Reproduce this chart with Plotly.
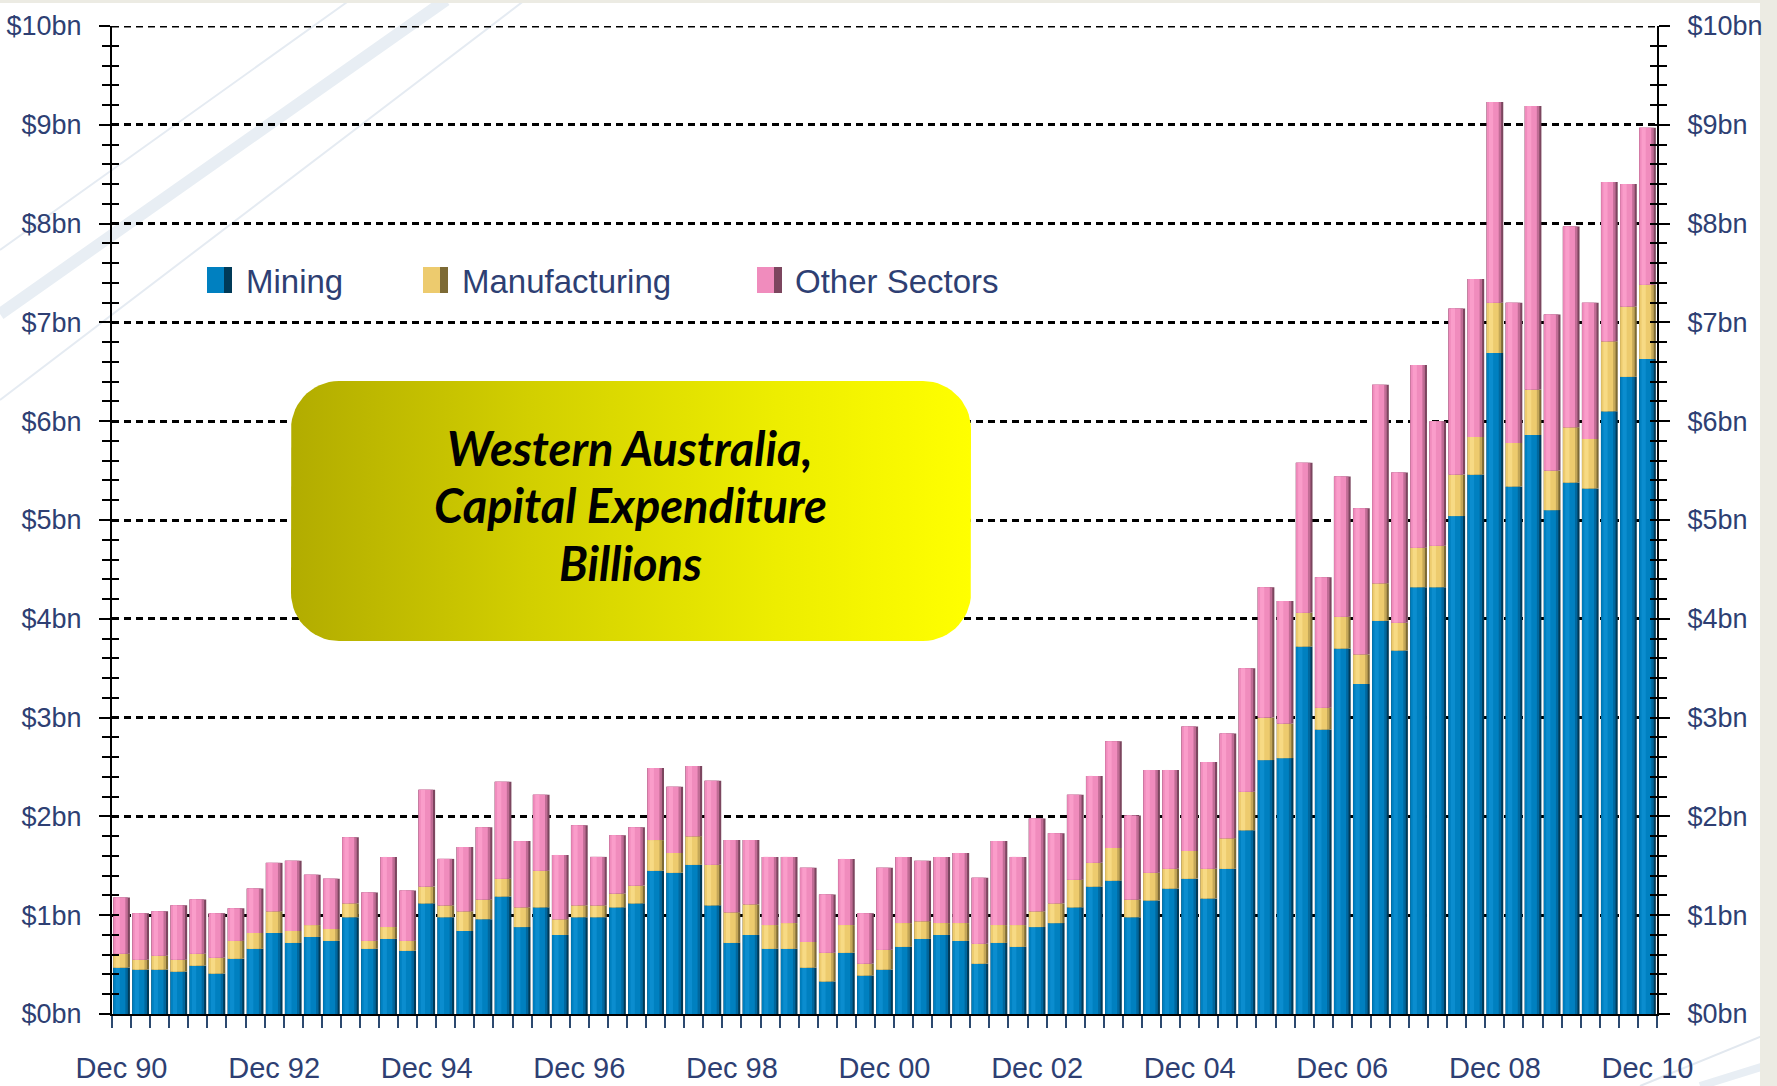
import numpy as np
import plotly.graph_objects as go

# ---------------- data (values in $bn) ----------------
mining = [0.47, 0.45, 0.45, 0.43, 0.49, 0.41, 0.56, 0.66, 0.82, 0.72,
          0.78, 0.74, 0.98, 0.66, 0.76, 0.64, 1.12, 0.98, 0.84, 0.96,
          1.19, 0.88, 1.08, 0.80, 0.98, 0.98, 1.08, 1.12, 1.45, 1.43,
          1.51, 1.10, 0.72, 0.80, 0.66, 0.66, 0.47, 0.33, 0.62, 0.39,
          0.45, 0.68, 0.76, 0.80, 0.74, 0.51, 0.72, 0.68, 0.88, 0.92,
          1.08, 1.29, 1.35, 0.98, 1.15, 1.27, 1.37, 1.17, 1.47, 1.86,
          2.57, 2.59, 3.72, 2.88, 3.70, 3.34, 3.98, 3.68, 4.32, 4.32,
          5.04, 5.46, 6.69, 5.34, 5.86, 5.10, 5.38, 5.32, 6.10, 6.45,
          6.63]
manufacturing = [0.14, 0.10, 0.14, 0.12, 0.12, 0.16, 0.18, 0.16, 0.22, 0.12,
                 0.12, 0.12, 0.14, 0.08, 0.12, 0.10, 0.17, 0.12, 0.20, 0.20,
                 0.18, 0.20, 0.37, 0.16, 0.12, 0.12, 0.14, 0.18, 0.31, 0.20,
                 0.29, 0.41, 0.31, 0.31, 0.24, 0.26, 0.26, 0.29, 0.28, 0.12,
                 0.20, 0.24, 0.18, 0.12, 0.18, 0.20, 0.18, 0.22, 0.16, 0.20,
                 0.28, 0.24, 0.33, 0.18, 0.28, 0.20, 0.28, 0.30, 0.31, 0.39,
                 0.43, 0.35, 0.34, 0.22, 0.32, 0.30, 0.38, 0.28, 0.40, 0.42,
                 0.42, 0.38, 0.51, 0.44, 0.46, 0.40, 0.56, 0.50, 0.71, 0.71,
                 0.75]
other_sectors = [0.57, 0.47, 0.45, 0.55, 0.55, 0.45, 0.33, 0.45, 0.49, 0.71,
                 0.51, 0.51, 0.67, 0.49, 0.71, 0.51, 0.98, 0.47, 0.65, 0.73,
                 0.98, 0.67, 0.77, 0.65, 0.81, 0.49, 0.59, 0.59, 0.73, 0.67,
                 0.71, 0.85, 0.73, 0.65, 0.69, 0.67, 0.75, 0.59, 0.67, 0.51,
                 0.83, 0.67, 0.61, 0.67, 0.71, 0.67, 0.85, 0.69, 0.94, 0.71,
                 0.86, 0.88, 1.08, 0.85, 1.04, 1.00, 1.26, 1.08, 1.06, 1.25,
                 1.32, 1.24, 1.52, 1.32, 1.42, 1.48, 2.01, 1.52, 1.85, 1.26,
                 1.68, 1.60, 2.03, 1.42, 2.87, 1.58, 2.03, 1.38, 1.61, 1.24,
                 1.59]
x_tick_labels = ["Dec 90", "Dec 92", "Dec 94", "Dec 96", "Dec 98", "Dec 00",
                 "Dec 02", "Dec 04", "Dec 06", "Dec 08", "Dec 10"]
y_tick_values = [0, 1, 2, 3, 4, 5, 6, 7, 8, 9, 10]
y_tick_labels = ["$0bn", "$1bn", "$2bn", "$3bn", "$4bn", "$5bn",
                 "$6bn", "$7bn", "$8bn", "$9bn", "$10bn"]
series_names = ["Mining", "Manufacturing", "Other Sectors"]

# quarter categories: Dec 90, Mar 91, ... Dec 10
month_names = ["Dec", "Mar", "Jun", "Sep"]
quarters = [f"{month_names[i % 4]} {(1990 + (i + 3) // 4) % 100:02d}" for i in range(len(mining))]
xpos = np.arange(len(quarters))
tick_positions = [quarters.index(t) for t in x_tick_labels]

# ---------------- styling ----------------
W, H = 1777, 1086
ML, MR, MT, MB = 112, 120, 26, 72
PW, PH = W - ML - MR, H - MT - MB
TXT = "#2e3f73"
FONT = "Liberation Sans, Arial, sans-serif"
GRID_DASH = "7px,5px"

def px2x(p):
    return (p - ML) / PW

def px2y(p):
    return (MT + PH - p) / PH

shades = {
    "Mining": ["#003a58", "#00679e", "#0080c0", "#0b8dcf"],
    "Manufacturing": ["#7d6a34", "#c4a758", "#edcb6e", "#f7da84"],
    "Other Sectors": ["#7c465f", "#c06c95", "#f08cbd", "#fa9dca"],
}
layers = [(-0.44, 0.88), (-0.43, 0.76), (-0.42, 0.62), (-0.31, 0.22)]

fig = go.Figure()

m = np.array(mining)
mf = np.array(manufacturing)
ot = np.array(other_sectors)
stack = [("Mining", m, np.zeros_like(m)),
         ("Manufacturing", mf, m),
         ("Other Sectors", ot, m + mf)]

for name, vals, base in stack:
    for li, (off, wid) in enumerate(layers):
        fig.add_trace(go.Bar(
            x=xpos, y=vals, base=base, offset=off, width=wid,
            marker=dict(color=shades[name][li], line=dict(width=0)),
            name=name, showlegend=False,
            customdata=quarters,
            hovertemplate="%{customdata}<br>" + name + ": $%{y:.2f}bn<extra></extra>",
            hoverinfo=None if li == 0 else "skip",
        ))

# dummy traces so that the overlay axes are drawn
for ya in ["y2", "y3", "y4"]:
    fig.add_trace(go.Scatter(x=[None], y=[None], xaxis="x", yaxis=ya,
                             showlegend=False, hoverinfo="skip"))

# rounded title box with a gradient (pixel coordinates on hidden overlay axes)
bx0, bx1, by0, by1, r = 291, 971, 381, 641, 48
def arc(cx, cy, a0, a1):
    t = np.linspace(np.radians(a0), np.radians(a1), 16)
    return cx + r * np.cos(t), cy + r * np.sin(t)
pts = [arc(bx1 - r, by0 + r, -90, 0), arc(bx1 - r, by1 - r, 0, 90),
       arc(bx0 + r, by1 - r, 90, 180), arc(bx0 + r, by0 + r, 180, 270)]
box_x = np.concatenate([p[0] for p in pts] + [pts[0][0][:1]])
box_y = np.concatenate([p[1] for p in pts] + [pts[0][1][:1]])
fig.add_trace(go.Scatter(
    x=box_x, y=box_y, xaxis="x2", yaxis="y5", mode="lines",
    fill="toself", fillcolor="#e0dc00",
    fillgradient=dict(type="horizontal",
                      colorscale=[[0, "#b2ac00"], [0.35, "#d2cf00"],
                                  [0.7, "#ecec00"], [1, "#ffff00"]]),
    line=dict(width=0, color="rgba(0,0,0,0)"), showlegend=False, hoverinfo="skip"))

tick_font = dict(family=FONT, size=27, color=TXT)
yax_common = dict(range=[0, 10], tickmode="array", tickvals=y_tick_values,
                  ticktext=y_tick_labels, zeroline=False, fixedrange=True,
                  automargin=False)

fig.update_layout(
    width=W, height=H,
    margin=dict(l=ML, r=MR, t=MT, b=MB, pad=0, autoexpand=False),
    paper_bgcolor="white", plot_bgcolor="rgba(0,0,0,0)",
    barmode="overlay", showlegend=False,
    xaxis=dict(range=[-0.5, len(quarters) - 0.5], tickmode="array",
               tickvals=tick_positions, ticktext=x_tick_labels, ticks="",
               showgrid=False, zeroline=False, showline=True, automargin=False,
               linecolor="black", linewidth=2, fixedrange=True,
               tickfont=dict(family=FONT, size=29, color=TXT),
               ticklabelstandoff=27,
               minor=dict(tickmode="linear", tick0=0.5, dtick=1, ticks="outside",
                          ticklen=12, tickwidth=2, tickcolor="#2c4a70", showgrid=False)),
    yaxis=dict(**yax_common, side="left", ticks="outside", ticklen=11, tickwidth=2,
               tickcolor="black", showline=True, linecolor="black", linewidth=2,
               showgrid=True, gridcolor="black", gridwidth=3, griddash=GRID_DASH,
               tickfont=tick_font, ticklabelstandoff=12,
               minor=dict(tickmode="linear", tick0=0, dtick=0.2, ticks="outside",
                          ticklen=8, tickwidth=2, tickcolor="black", showgrid=False)),
    yaxis2=dict(**yax_common, overlaying="y", side="right", anchor="x",
                ticks="outside", ticklen=11, tickwidth=2, tickcolor="black",
                showline=True, linecolor="black", linewidth=2, showgrid=False,
                tickfont=tick_font, ticklabelstandoff=12,
                minor=dict(tickmode="linear", tick0=0, dtick=0.2, ticks="outside",
                           ticklen=8, tickwidth=2, tickcolor="black", showgrid=False)),
    yaxis3=dict(**yax_common, overlaying="y", side="left", anchor="x",
                ticks="inside", ticklen=7, tickwidth=2, tickcolor="black",
                showticklabels=False, showgrid=False, showline=False,
                minor=dict(tickmode="linear", tick0=0, dtick=0.2, ticks="inside",
                           ticklen=7, tickwidth=2, tickcolor="black", showgrid=False)),
    yaxis4=dict(**yax_common, overlaying="y", side="right", anchor="x",
                ticks="inside", ticklen=7, tickwidth=2, tickcolor="black",
                showticklabels=False, showgrid=False, showline=False,
                minor=dict(tickmode="linear", tick0=0, dtick=0.2, ticks="inside",
                           ticklen=7, tickwidth=2, tickcolor="black", showgrid=False)),
    xaxis2=dict(overlaying="x", anchor="y5", range=[ML, ML + PW], visible=False,
                fixedrange=True, automargin=False),
    yaxis5=dict(overlaying="y", anchor="x2", range=[MT + PH, MT], visible=False,
                fixedrange=True, automargin=False),
)

shapes = []
# faint decorative streaks in the background
streaks = [((0, 314), (446, 0), 12, "#e8eef4"),
           ((0, 250), (350, 0), 2, "#e5ebf2"),
           ((0, 400), (525, 0), 2, "#e5ebf2"),
           ((1640, 1086), (1777, 1030), 2, "#e2e8ef"),
           ((1700, 1086), (1777, 1062), 8, "#e8eef4")]
for (xa, ya), (xb, yb), w, c in streaks:
    shapes.append(dict(type="line", xref="paper", yref="paper", layer="below",
                       x0=px2x(xa), y0=px2y(ya), x1=px2x(xb), y1=px2y(yb),
                       line=dict(color=c, width=w)))
# beige frame on top and right edge
shapes.append(dict(type="rect", xref="paper", yref="paper", layer="below",
                   x0=px2x(1760), x1=px2x(W), y0=px2y(H), y1=px2y(0),
                   fillcolor="#ecebe3", line=dict(width=0)))
shapes.append(dict(type="rect", xref="paper", yref="paper", layer="below",
                   x0=px2x(0), x1=px2x(W), y0=px2y(3), y1=px2y(0),
                   fillcolor="#ecebe3", line=dict(width=0)))
# dotted gridline along the top of the range ($10bn)
shapes.append(dict(type="line", xref="paper", yref="y", layer="below",
                   x0=0, x1=1, y0=y_tick_values[-1], y1=y_tick_values[-1],
                   line=dict(color="black", width=3, dash=GRID_DASH)))

# manual legend (large gradient squares)
legend_pos = [(207, 244), (423, 460), (757, 793)]
annotations = []
for name, (sx, tx) in zip(series_names, legend_pos):
    c = shades[name]
    shapes.append(dict(type="rect", xref="paper", yref="paper", layer="above",
                       x0=px2x(sx), x1=px2x(sx + 25), y0=px2y(293), y1=px2y(267),
                       fillcolor=c[0], line=dict(width=0)))
    shapes.append(dict(type="rect", xref="paper", yref="paper", layer="above",
                       x0=px2x(sx), x1=px2x(sx + 17), y0=px2y(293), y1=px2y(267),
                       fillcolor=c[2], line=dict(width=0)))
    annotations.append(dict(xref="paper", yref="paper", x=px2x(tx), y=px2y(281),
                            xanchor="left", yanchor="middle", showarrow=False,
                            text=name, font=dict(family=FONT, size=33, color=TXT)))

title_lines = ["Western Australia,", "Capital Expenditure", "Billions"]
for line, yy in zip(title_lines, [448, 505, 563]):
    annotations.append(dict(xref="paper", yref="paper", x=px2x(630), y=px2y(yy),
                            xanchor="center", yanchor="middle", showarrow=False,
                            text=line,
                            font=dict(family="Lato, Open Sans, sans-serif", size=47,
                                      color="black", weight="bold", style="italic")))

fig.update_layout(shapes=shapes, annotations=annotations)
fig.write_html("out.html",
               config={"displayModeBar": False},
               post_script="document.body.style.margin='0';"
                           "document.body.style.overflow='hidden';")
